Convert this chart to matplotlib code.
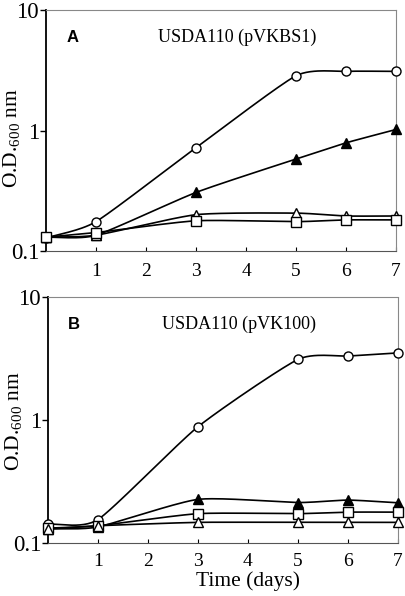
import numpy as np
import matplotlib
matplotlib.use("Agg")
import matplotlib.pyplot as plt

plt.rcParams['font.family'] = ['Liberation Serif', 'DejaVu Serif']
plt.rcParams['mathtext.fontset'] = 'custom'
plt.rcParams['mathtext.rm'] = 'Liberation Serif'
plt.rcParams['mathtext.it'] = 'Liberation Serif'

days = [0, 1, 3, 5, 6, 7]

# Panel A: USDA110 (pVKBS1)
a_circle = [0.128, 0.175, 0.72, 2.85, 3.1, 3.1]
a_tri_filled = [0.13, 0.135, 0.306, 0.58, 0.79, 1.02]
a_tri_open = [0.13, 0.135, 0.20, 0.206, 0.195, 0.195]
a_square = [0.13, 0.142, 0.178, 0.175, 0.181, 0.181]

# Panel B: USDA110 (pVK100)
b_circle = [0.142, 0.155, 0.88, 3.1, 3.3, 3.5]
b_tri_filled = [0.13, 0.135, 0.226, 0.213, 0.223, 0.212]
b_square = [0.132, 0.138, 0.173, 0.173, 0.178, 0.178]
b_tri_open = [0.13, 0.138, 0.147, 0.147, 0.147, 0.147]

panel_letters = ['A', 'B']
panel_titles = ['USDA110 (pVKBS1)', 'USDA110 (pVK100)']
xtick_labels = ['1', '2', '3', '4', '5', '6', '7']
ytick_labels = ['0.1', '1', '10']


def smooth(x, y, n=30):
    """Catmull-Rom smoothing of the drawn line (in x, log10 y space)."""
    x = np.asarray(x, float)
    ly = np.log10(np.asarray(y, float))
    px = np.concatenate([[2 * x[0] - x[1]], x, [2 * x[-1] - x[-2]]])
    py = np.concatenate([[2 * ly[0] - ly[1]], ly, [2 * ly[-1] - ly[-2]]])
    xs, ys = [], []
    for i in range(1, len(px) - 2):
        t = np.linspace(0, 1, n)
        t2, t3 = t * t, t * t * t
        for arr, out in ((px, xs), (py, ys)):
            p0, p1, p2, p3 = arr[i - 1], arr[i], arr[i + 1], arr[i + 2]
            m1 = (p2 - p0) / 2 * 0.6
            m2 = (p3 - p1) / 2 * 0.6
            out.append((2 * t3 - 3 * t2 + 1) * p1 + (t3 - 2 * t2 + t) * m1
                       + (-2 * t3 + 3 * t2) * p2 + (t3 - t2) * m2)
    return np.concatenate(xs), 10 ** np.concatenate(ys)


fig = plt.figure(figsize=(4.06, 5.96), dpi=100)
axA = fig.add_axes([0.1133, 0.579, 0.8621, 0.404])
axB = fig.add_axes([0.1182, 0.089, 0.8621, 0.413])

series_A = [(a_circle, 'o', 'white'), (a_tri_filled, '^', 'black'),
            (a_tri_open, '^', 'white'), (a_square, 's', 'white')]
series_B = [(b_circle, 'o', 'white'), (b_tri_filled, '^', 'black'),
            (b_square, 's', 'white'), (b_tri_open, '^', 'white')]

label_y = [0.467, 0.495]
xtick_pad = [9, 7]

for ax, series, letter, title, ly, xp in zip([axA, axB], [series_A, series_B],
                                             panel_letters, panel_titles,
                                             label_y, xtick_pad):
    for vals, mk, fc in series:
        sx, sy = smooth(days, vals)
        ax.plot(sx, sy, color='black', lw=1.2, zorder=2)
        ax.plot(days, vals, linestyle='none', marker=mk, markersize=6.5,
                markerfacecolor=fc, markeredgecolor='black', markeredgewidth=1.0,
                zorder=3, clip_on=False)
    ax.set_yscale('log')
    ax.set_ylim(0.1, 10)
    ax.set_xlim(0, 7)
    ax.set_yticks([0.1, 1, 10])
    ax.set_yticklabels(ytick_labels, fontsize=16.5)
    ax.yaxis.set_minor_locator(matplotlib.ticker.NullLocator())
    ax.set_xticks(range(1, 8))
    ax.set_xticklabels(xtick_labels, fontsize=14)
    ax.tick_params(axis='x', direction='in', length=3, width=0.8, pad=xp)
    ax.tick_params(axis='y', direction='out', length=4, width=1.0, pad=1)
    for s in ['top', 'right']:
        ax.spines[s].set_color('#888888')
        ax.spines[s].set_linestyle((0, (1, 1)))
        ax.spines[s].set_linewidth(0.8)
    ax.spines['left'].set_linewidth(1.3)
    ax.spines['bottom'].set_linewidth(0.8)
    ax.spines['bottom'].set_color('#555555')
    ax.set_ylabel('O.D.$_{600}$ nm', fontsize=15.5)
    ax.yaxis.set_label_coords(-0.068, ly)
    ax.text(0.075, 0.888, letter, transform=ax.transAxes, fontsize=12,
            fontweight='bold', family='Liberation Sans', ha='center', va='center')
    ax.text(0.545, 0.888, title, transform=ax.transAxes, fontsize=13,
            ha='center', va='center')

axB.set_xlabel('Time (days)', fontsize=15.5)
axB.xaxis.set_label_coords(0.572, -0.114)

fig.savefig('out.png', dpi=100)
